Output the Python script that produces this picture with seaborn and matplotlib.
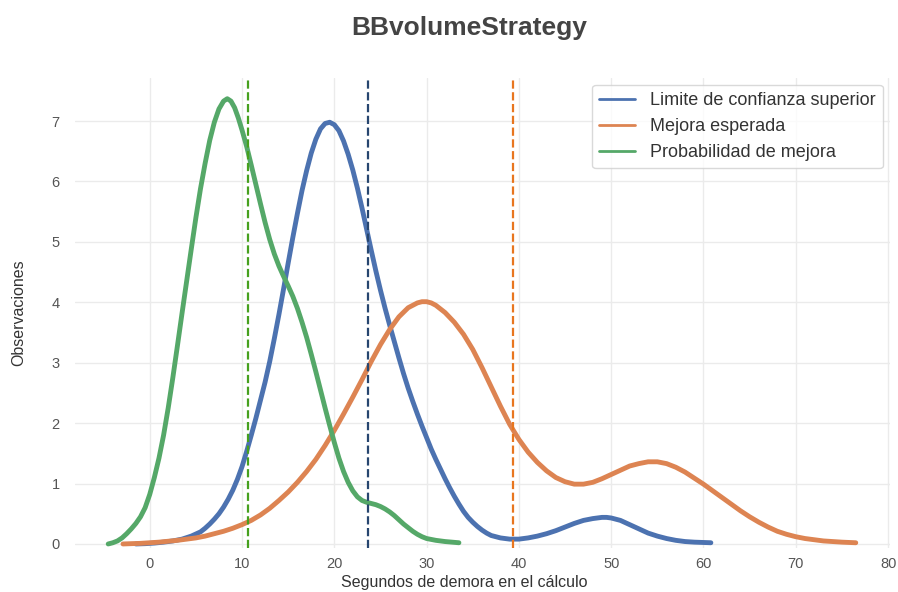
import matplotlib
matplotlib.use('Agg')
import matplotlib.pyplot as plt
import pandas as pd
import seaborn as sns

# curvas (segundos vs observaciones)
ucb_x = [-1.5, -0.5, 0.5, 1.5, 2.5, 3.5, 4.5, 5.5, 6, 6.5, 7, 7.5, 8, 8.5, 9, 9.5, 10, 10.5, 11, 11.5,
         12, 12.5, 13, 13.5, 14, 14.5, 15, 15.5, 16, 16.5, 17, 17.5, 18, 18.5, 19, 19.5, 20, 20.5,
         21, 21.5, 22, 22.5, 23, 23.5, 24, 24.5, 25, 25.5, 26, 26.5, 27, 27.5, 28, 28.5, 29, 29.5,
         30, 30.5, 31, 31.5, 32, 32.5, 33, 33.5, 34, 34.5, 35, 35.5, 36, 36.5, 37, 38, 39, 40, 41,
         42, 43, 44, 45, 46, 47, 48, 49, 49.5, 50, 51, 52, 53, 54, 55, 56, 57, 58, 59, 60.8]
ucb_y = [0.0, 0.005, 0.015, 0.03, 0.05, 0.08, 0.13, 0.2, 0.26, 0.33, 0.41, 0.5, 0.61, 0.74, 0.89, 1.07,
         1.28, 1.53, 1.8, 2.08, 2.38, 2.68, 3.02, 3.4, 3.8, 4.22, 4.65, 5.07, 5.47, 5.85, 6.18, 6.47,
         6.7, 6.87, 6.96, 6.98, 6.94, 6.84, 6.67, 6.45, 6.19, 5.89, 5.56, 5.21, 4.86, 4.52, 4.2, 3.9,
         3.62, 3.35, 3.08, 2.82, 2.58, 2.36, 2.15, 1.95, 1.76, 1.57, 1.4, 1.24, 1.08, 0.93, 0.79,
         0.66, 0.54, 0.44, 0.36, 0.29, 0.23, 0.18, 0.14, 0.1, 0.08, 0.08, 0.1, 0.13, 0.17, 0.22,
         0.28, 0.34, 0.39, 0.42, 0.44, 0.44, 0.43, 0.39, 0.32, 0.25, 0.18, 0.13, 0.09, 0.06, 0.04,
         0.03, 0.02]

ei_x = [-2.9, -2, -1, 0, 1, 2, 3, 4, 5, 6, 7, 8, 9, 10, 11, 12, 13, 14, 15, 16, 17, 18, 19, 20, 21,
        22, 23, 24, 25, 26, 27, 28, 29, 29.5, 30, 30.5, 31, 32, 33, 34, 35, 36, 37, 38, 39, 40, 41,
        42, 43, 44, 45, 46, 47, 48, 49, 50, 51, 52, 53, 54, 55, 56, 57, 58, 59, 60, 61, 62, 63, 64,
        65, 66, 67, 68, 69, 70, 71, 72, 73, 74, 75, 76.5]
ei_y = [0.0, 0.005, 0.01, 0.02, 0.03, 0.045, 0.06, 0.08, 0.1, 0.13, 0.17, 0.21, 0.26, 0.32, 0.39,
        0.48, 0.59, 0.72, 0.86, 1.02, 1.2, 1.4, 1.63, 1.88, 2.15, 2.43, 2.72, 3.02, 3.3, 3.55, 3.76,
        3.91, 3.99, 4.01, 4.01, 3.99, 3.95, 3.83, 3.67, 3.47, 3.22, 2.92, 2.6, 2.28, 1.98, 1.73,
        1.52, 1.35, 1.21, 1.1, 1.03, 0.99, 0.99, 1.02, 1.08, 1.15, 1.22, 1.29, 1.33, 1.36, 1.36,
        1.33, 1.27, 1.19, 1.09, 0.99, 0.88, 0.77, 0.66, 0.55, 0.45, 0.36, 0.28, 0.21, 0.16, 0.12,
        0.09, 0.07, 0.05, 0.04, 0.03, 0.02]

pi_x = [-4.5, -4, -3.5, -3, -2.5, -2, -1.5, -1, -0.5, 0, 0.5, 1, 1.5, 2, 2.5, 3, 3.5, 4, 4.5, 5, 5.5,
        6, 6.5, 7, 7.5, 8, 8.4, 8.8, 9.2, 9.6, 10, 10.5, 11, 11.5, 12, 12.5, 13, 13.5, 14, 14.5, 15,
        15.5, 16, 16.5, 17, 17.5, 18, 18.5, 19, 19.5, 20, 20.5, 21, 21.5, 22, 22.5, 23, 23.5, 24,
        24.5, 25, 25.5, 26, 26.5, 27, 27.5, 28, 28.5, 29, 29.5, 30, 31, 32, 33.5]
pi_y = [0.0, 0.02, 0.05, 0.1, 0.17, 0.25, 0.34, 0.45, 0.6, 0.82, 1.1, 1.42, 1.8, 2.25, 2.75, 3.28,
        3.82, 4.35, 4.88, 5.4, 5.88, 6.3, 6.68, 6.98, 7.2, 7.33, 7.37, 7.33, 7.22, 7.05, 6.85, 6.58,
        6.27, 5.95, 5.63, 5.32, 5.04, 4.8, 4.6, 4.43, 4.27, 4.1, 3.9, 3.67, 3.42, 3.14, 2.85, 2.55,
        2.25, 1.96, 1.68, 1.42, 1.2, 1.02, 0.88, 0.78, 0.72, 0.69, 0.67, 0.65, 0.62, 0.58, 0.53,
        0.47, 0.4, 0.33, 0.27, 0.21, 0.16, 0.12, 0.09, 0.06, 0.04, 0.02]

labels = ['Limite de confianza superior', 'Mejora esperada', 'Probabilidad de mejora']
# medias de cada estrategia
medias = [23.7, 39.4, 10.6]
colores_media = ['#27466f', '#e8761f', '#46a01e']

df = pd.concat([
    pd.DataFrame({'seg': ucb_x, 'obs': ucb_y, 'metodo': labels[0]}),
    pd.DataFrame({'seg': ei_x, 'obs': ei_y, 'metodo': labels[1]}),
    pd.DataFrame({'seg': pi_x, 'obs': pi_y, 'metodo': labels[2]}),
])

sns.set_theme(style='whitegrid')
plt.rcParams['font.family'] = ['Liberation Sans', 'DejaVu Sans']

fig = plt.figure(figsize=(8.98, 5.92), dpi=100)
ax = fig.add_axes([0.0835, 0.074, 0.9075, 0.795])

sns.lineplot(data=df, x='seg', y='obs', hue='metodo', hue_order=labels,
             palette='deep', linewidth=3.5, solid_joinstyle='round', ax=ax)

for m, c in zip(medias, colores_media):
    ax.axvline(m, color=c, ls='--', lw=1.6)

ax.set_xlim(-8.1, 80.2)
ax.set_ylim(-0.07, 7.72)
ax.set_xticks(range(0, 81, 10))
ax.set_yticks(range(0, 8))
ax.tick_params(colors='#555555', labelsize=10.5, length=0)
ax.tick_params(axis='x', pad=6)
ax.tick_params(axis='y', pad=11)
ax.grid(color='#ebebeb', lw=1)
sns.despine(ax=ax, left=True, bottom=True)

ax.set_xlabel('Segundos de demora en el cálculo', fontsize=11.5, color='#333333', labelpad=4)
ax.xaxis.set_label_coords(0.478, -0.058)
ax.set_ylabel('Observaciones', fontsize=11.5, color='#333333', labelpad=18)

leg = ax.legend(loc='upper right', fontsize=13, frameon=True, borderaxespad=0.4)
leg.get_frame().set_edgecolor('#d0d0d0')
for t in leg.get_texts():
    t.set_color('#333333')
for l in leg.get_lines():
    l.set_linewidth(2)

fig.text(0.522, 0.953, 'BBvolumeStrategy', fontsize=19, fontweight='bold',
         color='#444444', ha='center', va='center')

fig.savefig('out.png', dpi=100)
